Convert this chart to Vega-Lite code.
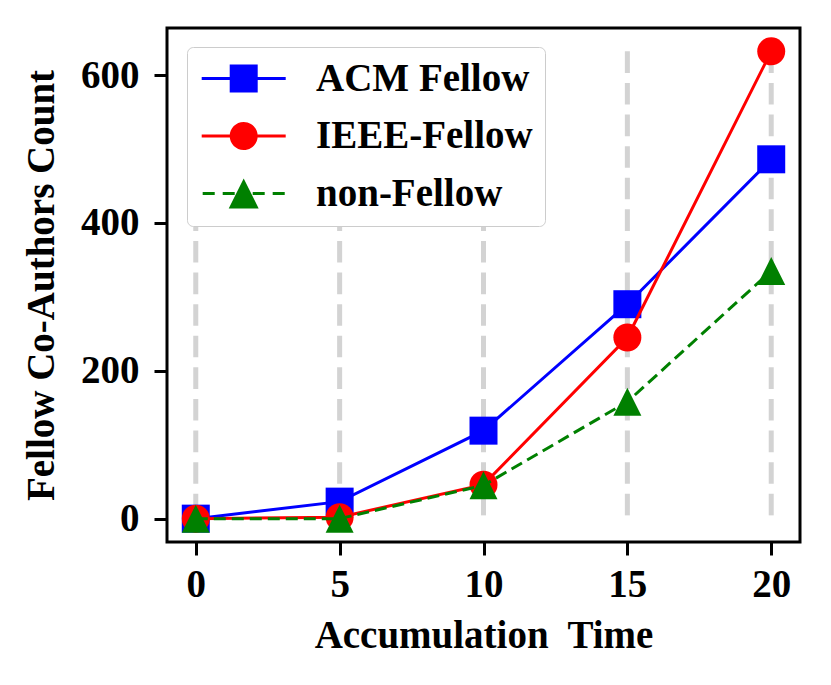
{
  "$schema": "https://vega.github.io/schema/vega-lite/v6.json",
  "width": 633,
  "height": 514,
  "autosize": {"type": "none"},
  "padding": {"left": 167, "top": 28, "right": 31, "bottom": 143},
  "background": "white",
  "data": {
    "values": [
      {"x": 0, "value": 0, "series": "ACM Fellow"},
      {"x": 5, "value": 23, "series": "ACM Fellow"},
      {"x": 10, "value": 119, "series": "ACM Fellow"},
      {"x": 15, "value": 290, "series": "ACM Fellow"},
      {"x": 20, "value": 486, "series": "ACM Fellow"},
      {"x": 0, "value": 0, "series": "IEEE-Fellow"},
      {"x": 5, "value": 2, "series": "IEEE-Fellow"},
      {"x": 10, "value": 46, "series": "IEEE-Fellow"},
      {"x": 15, "value": 245, "series": "IEEE-Fellow"},
      {"x": 20, "value": 632, "series": "IEEE-Fellow"},
      {"x": 0, "value": 0, "series": "non-Fellow"},
      {"x": 5, "value": 0, "series": "non-Fellow"},
      {"x": 10, "value": 45, "series": "non-Fellow"},
      {"x": 15, "value": 158, "series": "non-Fellow"},
      {"x": 20, "value": 335, "series": "non-Fellow"}
    ]
  },
  "encoding": {
    "x": {
      "field": "x",
      "type": "quantitative",
      "scale": {"domain": [-1, 21], "nice": false, "zero": false},
      "axis": {
        "title": "Accumulation\u00a0 Time",
        "values": [0, 5, 10, 15, 20],
        "grid": false,
        "labelPadding": 10,
        "titlePadding": 12
      }
    },
    "y": {
      "field": "value",
      "type": "quantitative",
      "scale": {"domain": [-31.6, 663.6], "nice": false, "zero": false},
      "axis": {
        "title": "Fellow Co-Authors Count",
        "values": [0, 200, 400, 600],
        "grid": false,
        "labelPadding": 15,
        "titlePadding": 19
      }
    }
  },
  "layer": [
    {
      "transform": [
        {"joinaggregate": [{"op": "max", "field": "value", "as": "top"}, {"op": "min", "field": "value", "as": "bottom"}]},
        {"filter": "datum.series == 'ACM Fellow'"}
      ],
      "mark": {"type": "rule", "color": "#d3d3d3", "strokeWidth": 5, "strokeDash": [21.6, 10]},
      "encoding": {
        "y": {"field": "top", "type": "quantitative"},
        "y2": {"field": "bottom"}
      }
    },
    {
      "transform": [{"filter": "datum.series == 'ACM Fellow'"}],
      "mark": {"type": "line", "strokeWidth": 3, "color": "#0000ff"},
      "encoding": {}
    },
    {
      "transform": [{"filter": "datum.series == 'ACM Fellow'"}],
      "mark": {"type": "point", "filled": true, "opacity": 1, "size": 784, "shape": "square", "color": "#0000ff"}
    },
    {
      "transform": [{"filter": "datum.series == 'IEEE-Fellow'"}],
      "mark": {"type": "line", "strokeWidth": 3, "color": "#ff0000"},
      "encoding": {}
    },
    {
      "transform": [{"filter": "datum.series == 'IEEE-Fellow'"}],
      "mark": {"type": "point", "filled": true, "opacity": 1, "size": 784, "shape": "circle", "color": "#ff0000"}
    },
    {
      "transform": [{"filter": "datum.series == 'non-Fellow'"}],
      "mark": {"type": "line", "strokeWidth": 3, "strokeDash": [12, 6], "color": "#008000"},
      "encoding": {}
    },
    {
      "transform": [{"filter": "datum.series == 'non-Fellow'"}],
      "mark": {"type": "point", "filled": true, "opacity": 1, "size": 784, "shape": "M0,-1L1,1L-1,1Z", "color": "#008000"}
    },
    {
      "transform": [{"filter": "datum.x < -100"}],
      "mark": {"type": "point", "filled": true, "opacity": 1},
      "encoding": {
        "color": {
          "field": "series",
          "type": "nominal",
          "scale": {
            "domain": ["ACM Fellow", "IEEE-Fellow", "non-Fellow"],
            "range": ["#0000ff", "#ff0000", "#008000"]
          },
          "legend": {
            "title": null,
            "orient": "none",
            "legendX": 20,
            "legendY": 19,
            "padding": 12,
            "rowPadding": 17.5,
            "cornerRadius": 6,
            "strokeColor": "#cccccc",
            "fillColor": "white",
            "symbolSize": 784,
            "symbolStrokeWidth": 0,
            "labelOffset": 78,
            "labelLimit": 500,
            "labelExpr": "datum.label + '\u00a0\u00a0'",
            "labelFont": "Liberation Serif",
            "labelFontWeight": "bold",
            "labelFontSize": 39,
            "labelColor": "black",
            "encode": {"legend": {"update": {"strokeWidth": {"value": 2.5}}}}
          }
        },
        "shape": {
          "field": "series",
          "type": "nominal",
          "scale": {
            "domain": ["ACM Fellow", "IEEE-Fellow", "non-Fellow"],
            "range": [
              "M-1.2,-0.107H4.8V0.107H-1.2Z M0.8,-1H2.8V1H0.8Z",
              "M-1.2,-0.107H4.8V0.107H-1.2Z M2.8,0A1,1,0,1,1,0.8,0A1,1,0,1,1,2.8,0Z",
              "M-1.13,-0.107H-0.27V0.107H-1.13Z M0.3,-0.107H1.157V0.107H0.3Z M2.443,-0.107H3.3V0.107H2.443Z M3.87,-0.107H4.73V0.107H3.87Z M1.8,-1.07L2.87,1.07L0.73,1.07Z"
            ]
          },
          "legend": {
            "title": null,
            "orient": "none",
            "legendX": 20,
            "legendY": 19,
            "padding": 12,
            "rowPadding": 17.5,
            "cornerRadius": 6,
            "strokeColor": "#cccccc",
            "fillColor": "white",
            "symbolSize": 784,
            "symbolStrokeWidth": 0,
            "labelOffset": 78,
            "labelLimit": 500,
            "labelExpr": "datum.label + '\u00a0\u00a0'",
            "labelFont": "Liberation Serif",
            "labelFontWeight": "bold",
            "labelFontSize": 39,
            "labelColor": "black"
          }
        }
      }
    }
  ],
  "config": {
    "view": {"stroke": "black", "strokeWidth": 3},
    "axis": {
      "domain": false,
      "ticks": true,
      "tickColor": "black",
      "tickWidth": 3,
      "tickSize": 13,
      "labelFont": "Liberation Serif",
      "labelFontWeight": "bold",
      "labelFontSize": 39,
      "labelColor": "black",
      "titleFont": "Liberation Serif",
      "titleFontWeight": "bold",
      "titleFontSize": 39,
      "titleColor": "black"
    }
  }
}
